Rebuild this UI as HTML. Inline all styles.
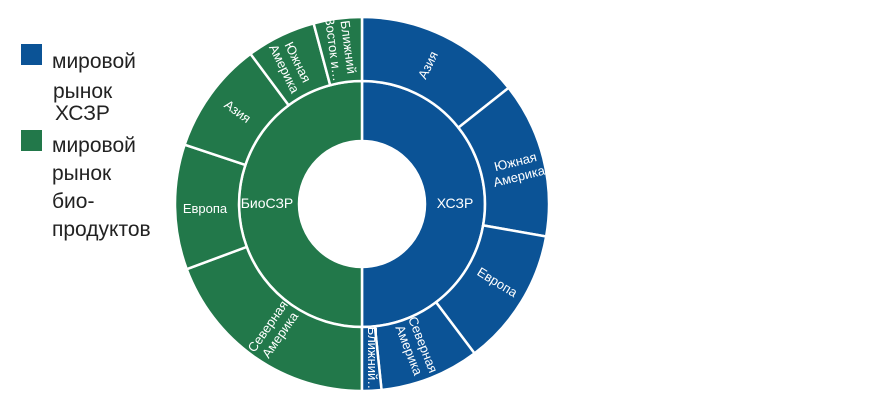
<!DOCTYPE html>
<html><head><meta charset="utf-8"><style>
html,body{margin:0;padding:0;background:#fff;width:870px;height:400px;overflow:hidden}
svg{position:absolute;left:0;top:0}
.l{font-family:"Liberation Sans","DejaVu Sans",sans-serif;font-size:21px;fill:#222}
.o{font-family:"Liberation Sans","DejaVu Sans",sans-serif;font-size:13px;fill:#fff}
.i{font-family:"Liberation Sans","DejaVu Sans",sans-serif;font-size:14px;fill:#fff}
</style></head><body>
<svg width="870" height="400" viewBox="0 0 870 400">
<rect x="21" y="44" width="21" height="21" fill="#0b5396"/>
<rect x="21" y="130" width="21" height="21" fill="#22784a"/>
<text class="l" x="52" y="68">мировой</text>
<text class="l" x="53" y="98">рынок</text>
<text class="l" x="55" y="120">ХСЗР</text>
<text class="l" x="52" y="152">мировой</text>
<text class="l" x="52" y="180">рынок</text>
<text class="l" x="52" y="208">био-</text>
<text class="l" x="52" y="236">продуктов</text>
<g id="rings"></g>
<g text-anchor="middle">
<text class="i" x="267" y="208">БиоСЗР</text>
<text class="i" x="455" y="208">ХСЗР</text>
<text class="o" transform="translate(432,67) rotate(-64)">Азия</text>
<text class="o" transform="translate(517,168) rotate(-14)"><tspan x="0" y="-2">Южная</tspan><tspan x="0" y="13">Америка</tspan></text>
<text class="o" transform="translate(495,286) rotate(31.5)">Европа</text>
<text class="o" transform="translate(417,347) rotate(68.5)"><tspan x="0" y="-2">Северная</tspan><tspan x="0" y="13">Америка</tspan></text>
<text class="o" transform="translate(368,360) rotate(90)">Ближний…</text>
<text class="o" transform="translate(273,330) rotate(-55)"><tspan x="0" y="-2">Северная</tspan><tspan x="0" y="13">Америка</tspan></text>
<text class="o" x="205" y="213">Европа</text>
<text class="o" transform="translate(235,115) rotate(36)">Азия</text>
<text class="o" transform="translate(292,65) rotate(64)"><tspan x="0" y="-2">Южная</tspan><tspan x="0" y="13">Америка</tspan></text>
<text class="o" transform="translate(342,48) rotate(82.5)"><tspan x="0" y="-2">Ближний</tspan><tspan x="0" y="13">Восток и…</tspan></text>
</g>
</svg>
<script>
(function(){
var cx=362,cy=204,B="#0b5396",G="#22784a";
function p(r,a){var t=a*Math.PI/180;return [cx+r*Math.sin(t),cy-r*Math.cos(t)];}
function seg(r0,r1,a0,a1,c){
 var l=(a1-a0)>180?1:0,A=p(r1,a0),Bp=p(r1,a1),C=p(r0,a1),D=p(r0,a0);
 return '<path d="M'+A+' A'+r1+','+r1+' 0 '+l+' 1 '+Bp+' L'+C+' A'+r0+','+r0+' 0 '+l+' 0 '+D+' Z" fill="'+c+'" stroke="#fff" stroke-width="2.5"/>';
}
var h='';
h+=seg(63,123,0,180,B)+seg(63,123,180,360,G);
var b=[0,51.6,100,143,174,180],g=[180,249.6,288.5,323.4,345,360];
for(var i=0;i<5;i++){h+=seg(123,187,b[i],b[i+1],B);h+=seg(123,187,g[i],g[i+1],G);}
document.getElementById('rings').innerHTML=h;
})();
</script>
</body></html>
